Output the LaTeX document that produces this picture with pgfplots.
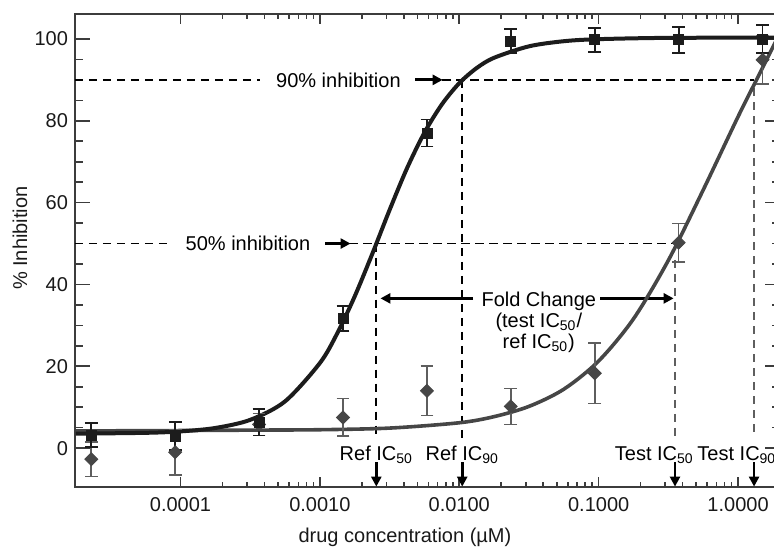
\documentclass[border=0pt]{standalone}
\usepackage{fontspec}
\setmainfont{Liberation Sans}
\usepackage{pgfplots}
\pgfplotsset{compat=1.18}
\usetikzlibrary{arrows.meta,calc}

\definecolor{refc}{HTML}{1C1C1C}
\definecolor{testc}{HTML}{464646}
\definecolor{testbar}{HTML}{5E5E5E}
\definecolor{framec}{HTML}{3C3C3C}

\tikzset{
  guide/.style={line width=0.85pt,dash pattern=on 4.2pt off 2.8pt},
  pointer/.style={line width=1.5pt,-{Triangle[length=5pt,width=5pt]}},
  downarrow/.style={line width=1.3pt,-{Triangle[length=5pt,width=5pt]}},
}

\begin{document}
\begin{tikzpicture}[font=\fontsize{10}{12}\selectfont]
\begin{axis}[
  name=ax,
  scale only axis,
  width=352.5pt, height=236.5pt,
  xmode=log, xmin=1.75e-5, xmax=2,
  ymin=-9.5, ymax=106.1,
  xtick={1e-4,1e-3,1e-2,1e-1,1},
  xticklabels={0.0001,0.0010,0.0100,0.1000,1.0000},
  ytick={0,20,40,60,80,100},
  minor y tick num=3,
  tick align=inside,
  axis line style={draw=framec,line width=1pt},
  tick style={draw=framec,line width=0.8pt},
  x tick style={/pgfplots/major tick length=5pt,/pgfplots/minor tick length=2.5pt},
  y tick style={/pgfplots/major tick length=7.5pt,/pgfplots/minor tick length=4pt},
  tick label style={font=\fontsize{10}{12}\selectfont,text=black!90},
  /pgf/number format/assume math mode=true,
  xticklabel style={yshift=-1.5pt},
  xlabel={drug concentration (µM)},
  ylabel={\% Inhibition},
  xlabel style={at={(axis description cs:0.468,-0.1163)},anchor=base,text=black!90},
  ylabel style={at={(axis description cs:-0.078,0.526)},anchor=center,text=black!90},
  clip=false,
]
\coordinate (sw) at (rel axis cs:0,0);
\coordinate (ne) at (rel axis cs:1,1);

% guide lines
\draw[guide,black] (axis cs:1.75e-5,90) -- (axis cs:3.74e-4,90);
\draw[guide,black] (axis cs:7.55e-3,90) -- (axis cs:1.303,90);
\draw[guide,black] (axis cs:1.75e-5,50) -- (axis cs:8.07e-5,50);
\draw[guide,black] (axis cs:1.626e-3,50) -- (axis cs:0.353,50);
\draw[guide,black] (axis cs:2.54e-3,50) -- (axis cs:2.54e-3,2.5);
\draw[guide,black] (axis cs:0.0105,90) -- (axis cs:0.0105,2.5);
\draw[guide,testbar] (axis cs:0.353,46) -- (axis cs:0.353,2.5);
\draw[guide,testbar] (axis cs:1.303,88) -- (axis cs:1.303,2.5);

% annotations
\node at (axis cs:1.358e-3,90) {90\% inhibition};
\draw[pointer] (axis cs:4.84e-3,90) -- (axis cs:7.6e-3,90);
\node at (axis cs:3.05e-4,50) {50\% inhibition};
\draw[pointer] (axis cs:1.094e-3,50) -- (axis cs:1.66e-3,50);

\node[anchor=base] at (axis cs:0.0372,34.6) {Fold Change};
\node[anchor=base] at (axis cs:0.0372,29.6) {(test IC\textsubscript{50}/};
\node[anchor=base] at (axis cs:0.0372,24.4) {ref IC\textsubscript{50})};
\draw[pointer,line width=1.6pt] (axis cs:0.01259,36.6) -- (axis cs:2.72e-3,36.6);
\draw[pointer,line width=1.6pt] (axis cs:0.1026,36.6) -- (axis cs:0.345,36.6);

\node[anchor=base] at (axis cs:2.54e-3,-2.9) {Ref IC\textsubscript{50}};
\node[anchor=base] at (axis cs:0.0105,-2.9) {Ref IC\textsubscript{90}};
\node[anchor=base east,inner sep=0pt] at (axis cs:0.484,-2.9) {Test IC\textsubscript{50}};
\node[anchor=base west,inner sep=0pt] at (axis cs:0.508,-2.9) {Test IC\textsubscript{90}};
\draw[downarrow] (axis cs:2.54e-3,-3.5) -- (axis cs:2.54e-3,-9.4);
\draw[downarrow] (axis cs:0.0105,-3.5) -- (axis cs:0.0105,-9.4);
\draw[downarrow] (axis cs:0.353,-3.5) -- (axis cs:0.353,-9.4);
\draw[downarrow] (axis cs:1.303,-3.5) -- (axis cs:1.303,-9.4);

% fitted curves
\addplot[testc,line width=1.8pt,smooth] coordinates {
(1.778e-5,4.2) (1e-4,4.3) (3.162e-4,4.4) (1e-3,4.5) (3.162e-3,4.9)
(0.01,6.2) (0.01778,7.7) (0.03162,10.2) (0.05623,14.4) (0.1,21.3)
(0.1778,31.6) (0.3162,45.9) (0.5623,63.1) (1.0,81.0) (1.413,91.2)
(2.0,101.5)};
\addplot[refc,line width=2pt,smooth] coordinates {
(1.778e-5,3.54) (5.623e-5,3.74) (1e-4,4.09) (1.778e-4,4.93) (3.162e-4,6.91)
(5.623e-4,11.43) (1e-3,20.8) (1.334e-3,28.1) (1.778e-3,37.1) (2.371e-3,47.4)
(3.162e-3,58.2) (4.217e-3,68.4) (5.623e-3,77.1) (7.499e-3,84.0) (0.01,89.2)
(0.01334,92.9) (0.01778,95.4) (0.03162,98.2) (0.05623,99.45) (0.1,99.95)
(0.3162,100.27) (1.995,100.3)};

% test data
\addplot[testc,only marks,mark=square*,mark size=2.3pt,mark options={rotate=45,fill=testc,draw=testc},
  error bars/.cd,y dir=both,y explicit,
  error bar style={line width=0.8pt,testbar},
  error mark options={rotate=90,mark size=3.2pt,line width=0.8pt,testbar}]
coordinates {
(2.29e-5,-2.7) +- (0,4.2)
(9.16e-5,-1.0) +- (0,5.6)
(3.66e-4,5.8) +- (0,2.7)
(1.465e-3,7.5) +- (0,4.6)
(5.86e-3,14.0) +- (0,6.0)
(0.0234,10.2) +- (0,4.4)
(0.0938,18.3) +- (0,7.4)
(0.375,50.2) +- (0,4.7)
(1.5,94.9) +- (0,5.9)};

% reference data
\addplot[refc,only marks,mark=square*,mark size=2.5pt,mark options={fill=refc,draw=refc},
  error bars/.cd,y dir=both,y explicit,
  error bar style={line width=0.9pt,refc},
  error mark options={rotate=90,mark size=3.2pt,line width=0.9pt,refc}]
coordinates {
(2.29e-5,3.2) +- (0,2.9)
(9.16e-5,2.9) +- (0,3.4)
(3.66e-4,6.3) +- (0,3.2)
(1.465e-3,31.7) +- (0,3.0)
(5.86e-3,77.0) +- (0,3.3)
(0.0234,99.5) +- (0,3.0)
(0.0938,99.8) +- (0,2.9)
(0.375,99.8) +- (0,3.2)
(1.5,100.0) +- (0,3.4)};
\end{axis}
\pgfresetboundingbox
\path[use as bounding box] ($(sw)+(-37.5pt,-29.5pt)$) rectangle ($(ne)+(-3pt,7pt)$);
\end{tikzpicture}
\end{document}
